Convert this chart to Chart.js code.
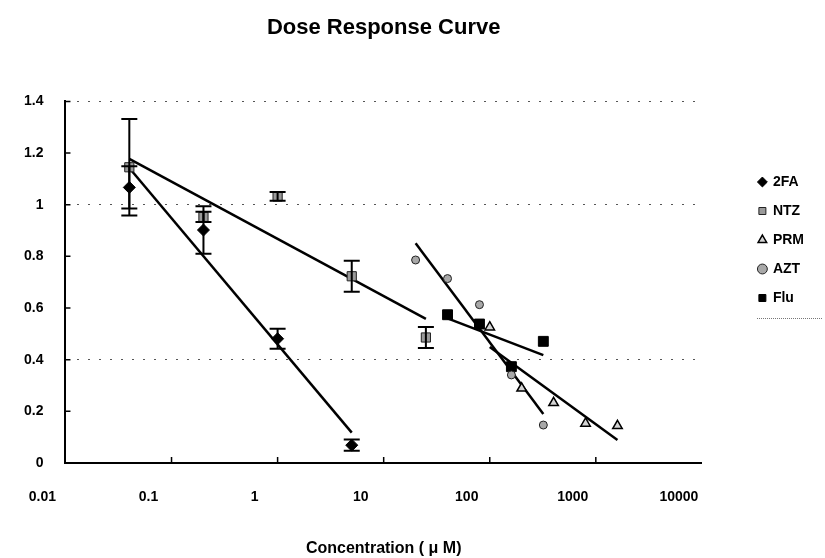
<!DOCTYPE html>
<html>
<head>
<meta charset="utf-8">
<script src="https://cdn.jsdelivr.net/npm/chart.js@4.4.1/dist/chart.umd.min.js"></script>
<style>
  html, body { margin: 0; padding: 0; background: #fff; }
  #wrap { width: 825px; height: 558px; }
</style>
</head>
<body>
<div id="wrap"><canvas id="chart-dose"></canvas></div>
<script>
// ── Data ────────────────────────────────────────
const xTicks = [0.01, 0.1, 1, 10, 100, 1000, 10000];
const gridValues = [1.4, 1.0, 0.4];

const conc2FA = [0.04, 0.2, 1, 5];
const resp2FA = [1.067, 0.902, 0.481, 0.069];
const err2FA  = [0.082, 0.092, 0.039, 0.022];

const concNTZ = [0.04, 0.2, 1, 5, 25];
const respNTZ = [1.145, 0.953, 1.032, 0.723, 0.486];
const errNTZ  = [0.187, 0.02, 0.017, 0.06, 0.041];

const concPRM = [100, 200, 400, 800, 1600];
const respPRM = [0.526, 0.289, 0.233, 0.153, 0.144];

const concAZT = [20, 40, 80, 160, 320];
const respAZT = [0.786, 0.714, 0.613, 0.341, 0.147];

const concFlu = [40, 80, 160, 320];
const respFlu = [0.574, 0.538, 0.373, 0.471];

const FONT = '"Liberation Sans", Arial, sans-serif';

function pts(xs, ys) { return xs.map((x, i) => ({ x, y: ys[i] })); }

// Excel-style linear trendline on log10(x)
function trend(xs, ys) {
  const lx = xs.map(Math.log10);
  const n = lx.length;
  const mx = lx.reduce((a, b) => a + b, 0) / n;
  const my = ys.reduce((a, b) => a + b, 0) / n;
  let sxy = 0, sxx = 0;
  lx.forEach((v, i) => { sxy += (v - mx) * (ys[i] - my); sxx += (v - mx) * (v - mx); });
  const b = sxy / sxx, a = my - b * mx;
  const lo = Math.min(...xs), hi = Math.max(...xs);
  return [{ x: lo, y: a + b * Math.log10(lo) }, { x: hi, y: a + b * Math.log10(hi) }];
}

function trendSet(xs, ys) {
  return {
    type: 'line', data: trend(xs, ys),
    borderColor: '#000', borderWidth: 2.5, pointRadius: 0, showLine: true, fill: false,
  };
}

// ── Error bars, inward ticks, legend placement ──
const extras = {
  id: 'extras',
  afterLayout(chart) {
    // legend sits lower and further right than Chart.js puts it
    const lg = chart.legend;
    lg.left += 42; lg.right += 42;
    lg.top += 160; lg.bottom += 160;
  },
  afterDatasetsDraw(chart) {
    const c = chart.ctx, ys = chart.scales.y, xs = chart.scales.x, area = chart.chartArea;
    c.save();
    c.strokeStyle = '#000';
    c.lineWidth = 2;
    chart.data.datasets.forEach((ds, di) => {
      if (!ds.errors) return;
      chart.getDatasetMeta(di).data.forEach((el, i) => {
        const v = ds.data[i].y, e = ds.errors[i];
        const top = ys.getPixelForValue(v + e), bot = ys.getPixelForValue(v - e);
        c.beginPath();
        c.moveTo(el.x, top); c.lineTo(el.x, bot);
        c.moveTo(el.x - 8, top); c.lineTo(el.x + 8, top);
        c.moveTo(el.x - 8, bot); c.lineTo(el.x + 8, bot);
        c.stroke();
      });
    });
    c.lineWidth = 1.5;
    c.beginPath();
    ys.ticks.forEach(t => {
      const py = ys.getPixelForValue(t.value);
      c.moveTo(area.left, py); c.lineTo(area.left + 5, py);
    });
    xs.ticks.forEach(t => {
      const px = xs.getPixelForValue(t.value);
      if (px > area.left + 2 && px < area.right - 2) {
        c.moveTo(px, area.bottom); c.lineTo(px, area.bottom - 6);
      }
    });
    c.stroke();
    // thin rule under the legend
    c.lineWidth = 1;
    c.strokeStyle = '#777';
    c.setLineDash([1, 1]);
    c.beginPath();
    c.moveTo(757, 318.5); c.lineTo(822, 318.5);
    c.stroke();
    c.restore();
  }
};

new Chart(document.getElementById('chart-dose').getContext('2d'), {
  type: 'scatter',
  data: {
    datasets: [
      { label: '2FA', data: pts(conc2FA, resp2FA), errors: err2FA,
        pointStyle: 'rectRot', pointRadius: 6, backgroundColor: '#000', borderColor: '#000', borderWidth: 1 },
      { label: 'NTZ', data: pts(concNTZ, respNTZ), errors: errNTZ,
        pointStyle: 'rect', pointRadius: 6.5, backgroundColor: '#9a9a9a', borderColor: '#222', borderWidth: 1 },
      { label: 'PRM', data: pts(concPRM, respPRM),
        pointStyle: 'triangle', pointRadius: 5.5, backgroundColor: '#d4d4d4', borderColor: '#000', borderWidth: 1.5 },
      { label: 'AZT', data: pts(concAZT, respAZT),
        pointStyle: 'circle', pointRadius: 4, backgroundColor: '#a8a8a8', borderColor: '#222', borderWidth: 1 },
      { label: 'Flu', data: pts(concFlu, respFlu),
        pointStyle: 'rect', pointRadius: 7, backgroundColor: '#000', borderColor: '#000', borderWidth: 1 },
      trendSet(conc2FA, resp2FA),
      trendSet(concNTZ, respNTZ),
      trendSet(concPRM, respPRM),
      trendSet(concAZT, respAZT),
      trendSet(concFlu, respFlu),
    ],
  },
  options: {
    responsive: true,
    maintainAspectRatio: false,
    animation: false,
    layout: { padding: { left: 2, right: 53, top: 0, bottom: 0 } },
    plugins: {
      title: {
        display: true, text: 'Dose Response Curve', color: '#000', fullSize: false,
        font: { family: FONT, size: 22, weight: 'bold' },
        padding: { top: 15, bottom: 60 },
      },
      legend: {
        position: 'right', align: 'start',
        labels: {
          usePointStyle: true, color: '#000', padding: 15, boxWidth: 7, boxHeight: 7,
          font: { family: FONT, size: 14, weight: 'bold' },
          filter: item => item.datasetIndex < 5,
        },
      },
      tooltip: { enabled: false },
    },
    scales: {
      x: {
        type: 'logarithmic', min: 0.01, max: 10000,
        afterBuildTicks: scale => { scale.ticks = xTicks.map(v => ({ value: v })); },
        ticks: {
          color: '#000', padding: 26, labelOffset: -23, maxRotation: 0, autoSkip: false,
          font: { family: FONT, size: 14, weight: 'bold' },
          callback: v => String(v),
        },
        grid: { display: false, drawTicks: false },
        border: { display: true, color: '#000', width: 2 },
        title: {
          display: true, text: 'Concentration ( μ M)', color: '#000',
          font: { family: FONT, size: 16, weight: 'bold' },
          padding: { top: 7, bottom: 0 },
        },
      },
      y: {
        min: 0, max: 1.4,
        ticks: {
          stepSize: 0.2, color: '#000', padding: 22,
          font: { family: FONT, size: 14, weight: 'bold' },
          callback: v => String(Math.round(v * 10) / 10),
        },
        grid: {
          drawTicks: false, lineWidth: 1,
          color: c => gridValues.some(g => Math.abs(g - c.tick.value) < 1e-6) ? '#555' : 'transparent',
        },
        border: { display: true, color: '#000', width: 2, dash: [2, 9] },
      },
    },
  },
  plugins: [extras],
});
</script>
</body>
</html>
